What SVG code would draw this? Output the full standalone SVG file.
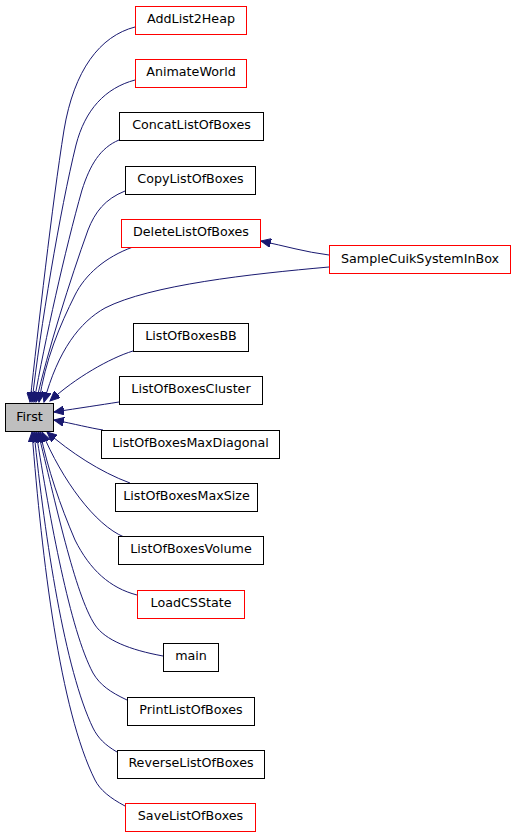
<svg xmlns="http://www.w3.org/2000/svg" width="517" height="837" viewBox="0 0 517 837">
<style>
.n rect{fill:#ffffff;stroke:#000000;stroke-width:1}
.n.r rect{stroke:#ff0000}
.n.g rect{fill:#bfbfbf}
.n text{font-family:"DejaVu Sans",sans-serif;font-size:12.7px;fill:#000000;text-anchor:middle}
.e path{fill:none;stroke:#191970;stroke-width:1;marker-end:url(#ah)}
</style>
<defs>
<marker id="ah" markerUnits="userSpaceOnUse" markerWidth="11" markerHeight="9" refX="10" refY="4.5" orient="auto">
<path d="M0,0 L10,4.5 L0,9 z" fill="#191970" stroke="#191970" stroke-width="1"/>
</marker>
</defs>
<rect width="517" height="837" fill="#ffffff"/>
<g id="edges" class="e">
<path d="M135,27 C100,36 74,70 64,130 C52,205 38,330 30,402"/>
<path d="M135,80 C105,88 85,110 76,145 C60,210 40,330 32,402"/>
<path d="M119,140 C100,148 90,165 82,190 C65,250 45,340 34,402"/>
<path d="M125,191 C105,199 95,212 88,230 C70,280 48,350 36,402"/>
<path d="M133,247 C105,257 85,275 75,295 C60,325 45,360 39,402"/>
<path d="M329,267 C250,274 150,285 105,308 C80,322 58,350 44,402"/>
<path d="M329,255 C305,252 285,246 261,241"/>
<path d="M133,351 C110,358 75,378 50,401"/>
<path d="M119,402 C100,405 80,408 54,412"/>
<path d="M103,430 C90,428 75,424 54,420"/>
<path d="M130,483 C100,472 70,452 47,432"/>
<path d="M124,537 C95,525 62,480 42,432"/>
<path d="M137,595 C110,588 90,570 75,540 C60,505 48,470 40,432"/>
<path d="M163,656 C130,650 105,640 95,625 C75,595 55,500 38,432"/>
<path d="M127,700 C110,692 100,685 93,673 C70,630 50,520 36,432"/>
<path d="M117,752 C105,745 98,738 93,728 C65,670 45,540 34,432"/>
<path d="M125,806 C110,798 100,790 95,780 C60,710 42,560 32,432"/>
</g>
<g id="First" class="n g"><rect x="5.5" y="403.5" width="48" height="28"/><text x="29.5" y="420.5">First</text></g>
<g id="AddList2Heap" class="n r"><rect x="135.5" y="6.5" width="111" height="28"/><text x="191" y="23">AddList2Heap</text></g>
<g id="AnimateWorld" class="n r"><rect x="135.5" y="59.5" width="111" height="28"/><text x="191" y="76">AnimateWorld</text></g>
<g id="ConcatListOfBoxes" class="n"><rect x="119.5" y="112.5" width="144" height="28"/><text x="191.5" y="129">ConcatListOfBoxes</text></g>
<g id="CopyListOfBoxes" class="n"><rect x="125.5" y="166.5" width="130" height="28"/><text x="190.5" y="183">CopyListOfBoxes</text></g>
<g id="DeleteListOfBoxes" class="n r"><rect x="121.5" y="219.5" width="139" height="28"/><text x="191" y="236">DeleteListOfBoxes</text></g>
<g id="SampleCuikSystemInBox" class="n r"><rect x="329.5" y="245.5" width="181" height="28"/><text x="420" y="262.5">SampleCuikSystemInBox</text></g>
<g id="ListOfBoxesBB" class="n"><rect x="133.5" y="323.5" width="115" height="28"/><text x="191" y="340">ListOfBoxesBB</text></g>
<g id="ListOfBoxesCluster" class="n"><rect x="119.5" y="376.5" width="143" height="28"/><text x="191" y="393">ListOfBoxesCluster</text></g>
<g id="ListOfBoxesMaxDiagonal" class="n"><rect x="101.5" y="430.5" width="178" height="28"/><text x="190.5" y="447">ListOfBoxesMaxDiagonal</text></g>
<g id="ListOfBoxesMaxSize" class="n"><rect x="115.5" y="483.5" width="142" height="28"/><text x="186.5" y="500">ListOfBoxesMaxSize</text></g>
<g id="ListOfBoxesVolume" class="n"><rect x="118.5" y="536.5" width="145" height="28"/><text x="191" y="553">ListOfBoxesVolume</text></g>
<g id="LoadCSState" class="n r"><rect x="137.5" y="590.5" width="107" height="28"/><text x="191" y="607">LoadCSState</text></g>
<g id="main" class="n"><rect x="163.5" y="643.5" width="55" height="28"/><text x="191" y="660">main</text></g>
<g id="PrintListOfBoxes" class="n"><rect x="127.5" y="697.5" width="127" height="28"/><text x="191" y="714">PrintListOfBoxes</text></g>
<g id="ReverseListOfBoxes" class="n"><rect x="117.5" y="750.5" width="147" height="28"/><text x="191" y="767">ReverseListOfBoxes</text></g>
<g id="SaveListOfBoxes" class="n r"><rect x="125.5" y="803.5" width="130" height="28"/><text x="190.5" y="820">SaveListOfBoxes</text></g>
</svg>
